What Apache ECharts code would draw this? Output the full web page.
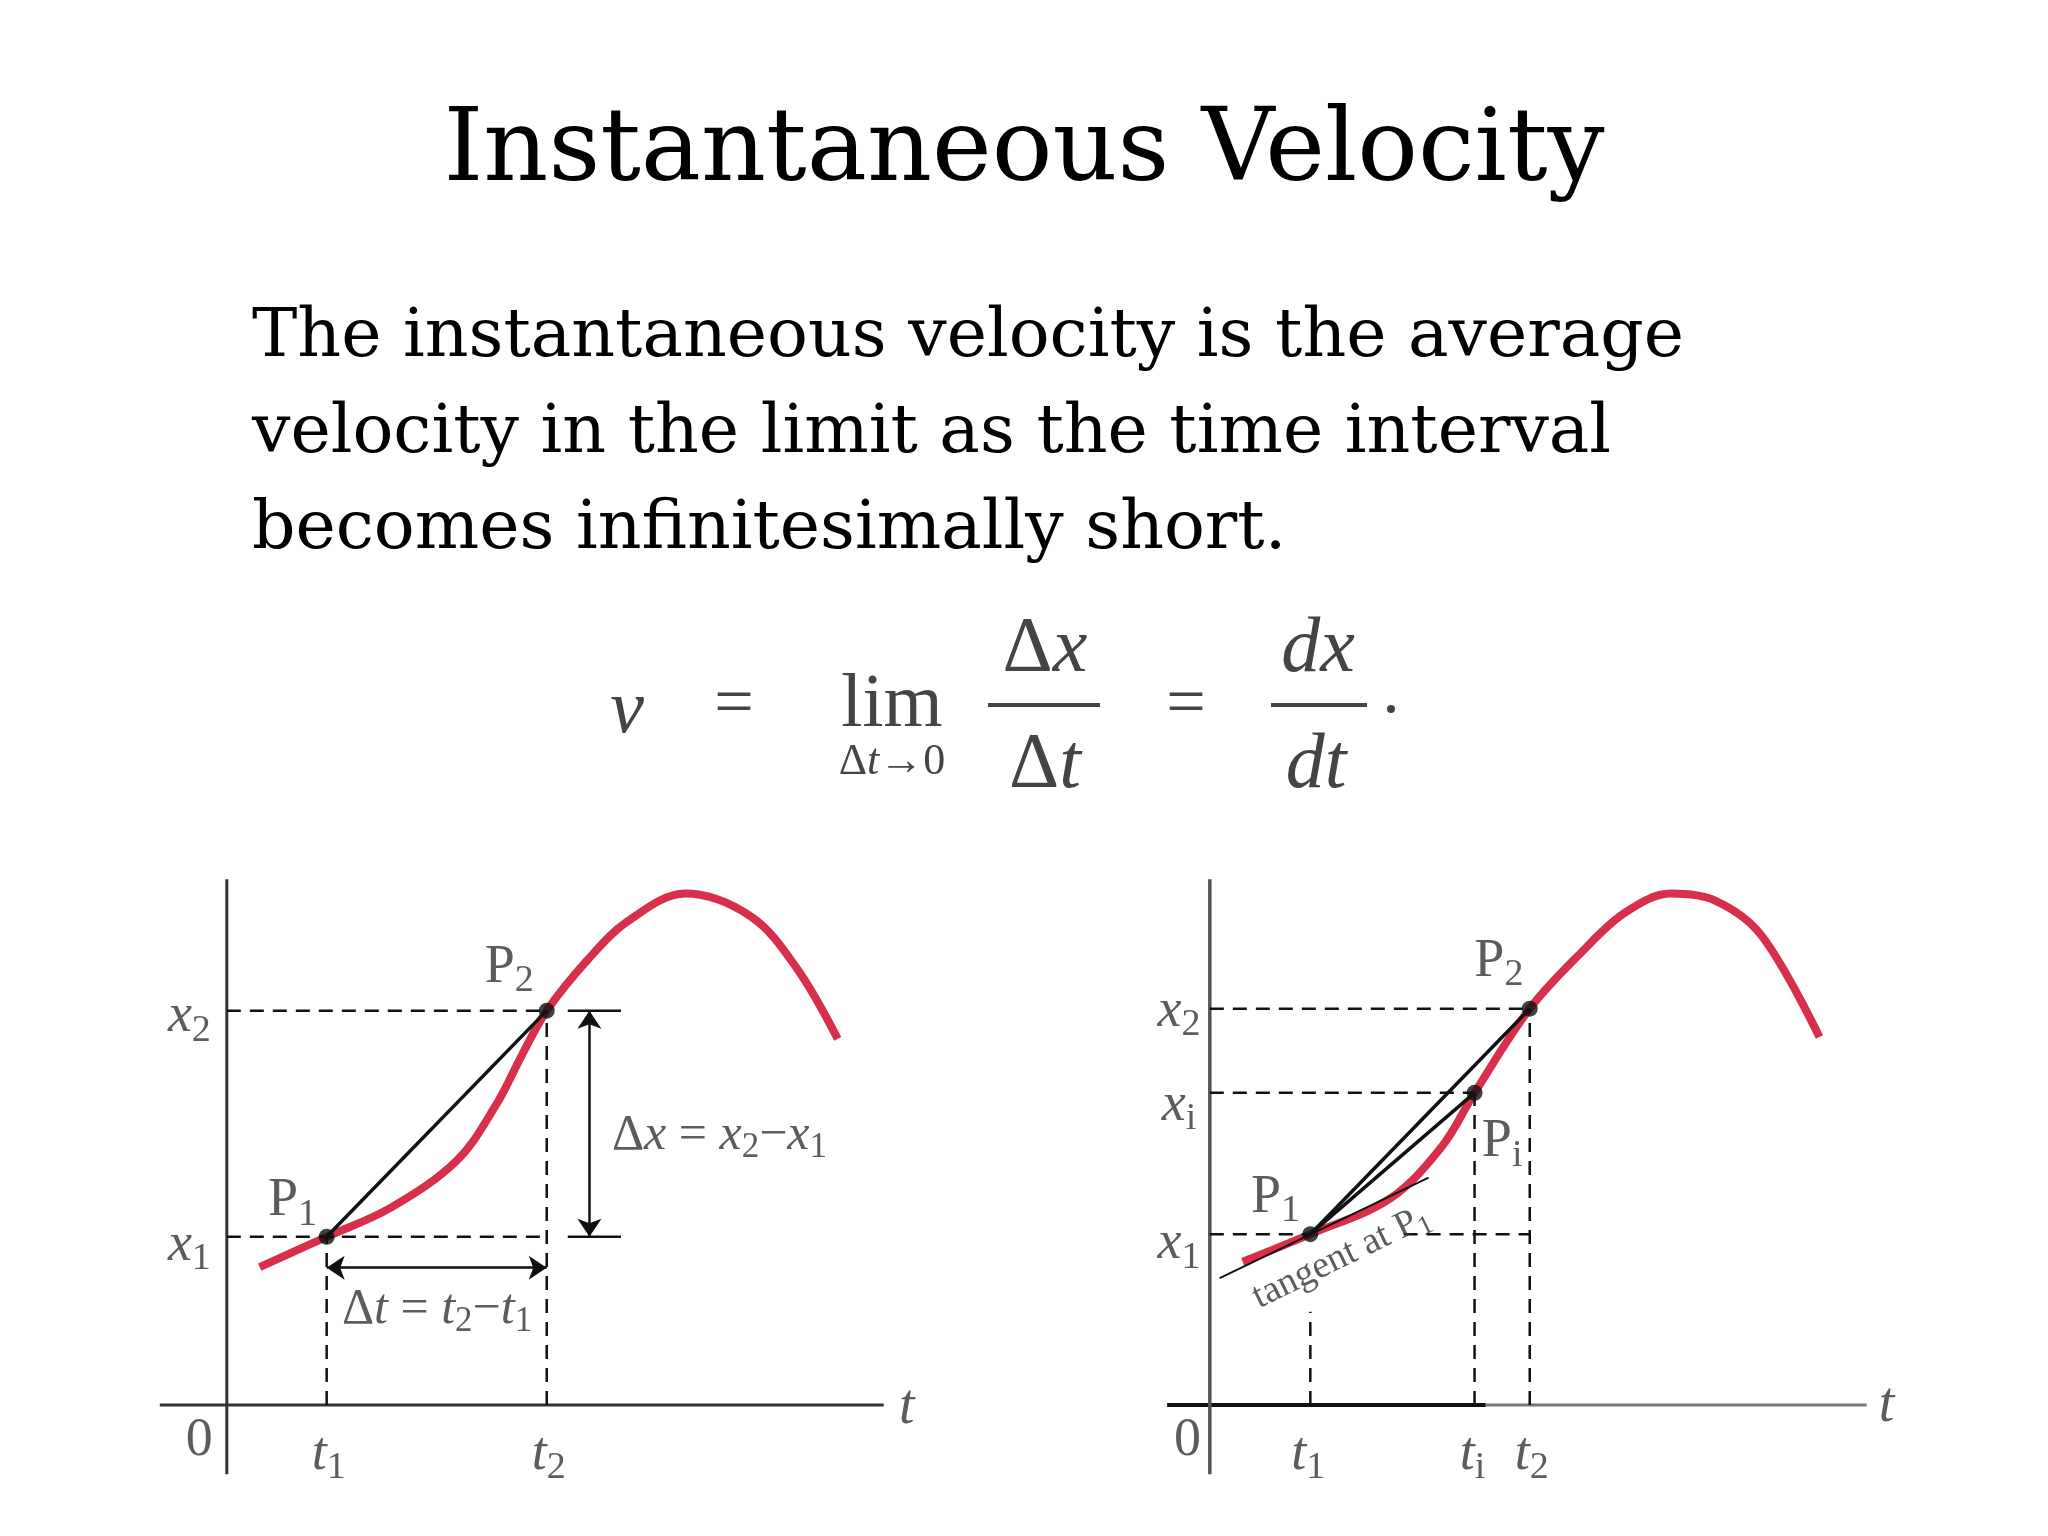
<!DOCTYPE html>
<html><head><meta charset="utf-8">
<script src="https://cdn.jsdelivr.net/npm/echarts@6/dist/echarts.min.js"></script>
<style>html,body{margin:0;background:#fff}#c{width:2048px;height:1536px}</style>
</head><body><div id="c"></div>
<script>
// curve samples [t, x]
var leftCurve = [[0.50,2.10],[1.52,2.56],[2.49,3.00],[3.50,3.72],[4.10,4.57],[4.50,5.34],[4.87,6.00],[5.49,6.77],[6.09,7.35],[6.98,7.78],[7.98,7.43],[8.68,6.64],[9.30,5.57]];
var rightCurve = [[0.50,2.18],[1.53,2.60],[2.74,3.14],[3.53,3.93],[4.03,4.75],[4.87,6.03],[5.62,6.85],[6.32,7.49],[7.02,7.78],[7.70,7.67],[8.40,7.14],[9.28,5.60]];
var lP1 = [1.52,2.56], lP2 = [4.87,6.00];
var rP1 = [1.53,2.60], rPi = [4.03,4.75], rP2 = [4.87,6.03];
var tangent = [[0.15,1.93],[3.33,3.46]];

var RED = '#d8304c', F = 'Liberation Serif', FT = 'DejaVu Serif';
var myChart = echarts.init(document.getElementById('c'));

function seg(g, pts, w, dash, color){
  return {type:'line', xAxisIndex:g, yAxisIndex:g, data:pts, symbol:'none', silent:true,
    lineStyle:{color:color||'#111', width:w, type:dash?[14,9]:'solid'}, z:3};
}
function lab(g, p, text, size, extra){
  var sz = size||54;
  var l = {show:true, position:'inside', formatter:text, color:'#333', fontFamily:F, fontSize:sz,
    rich:{i:{fontStyle:'italic',fontFamily:F,fontSize:sz,color:'#333'},
          s:{fontSize:Math.round(sz*0.7),fontFamily:F,color:'#333',padding:[Math.round(sz*0.5),0,0,0]},
          r:{fontSize:sz,fontFamily:F,color:'#333'}}};
  if(extra) for(var k in extra) l[k]=extra[k];
  return {type:'scatter', xAxisIndex:g, yAxisIndex:g, symbolSize:1, silent:true,
    itemStyle:{color:'rgba(0,0,0,0)'}, data:[{value:p, label:l}], z:5};
}
function dots(g, pts){
  return {type:'scatter', xAxisIndex:g, yAxisIndex:g, data:pts, symbolSize:16, itemStyle:{color:'#111'}, z:6};
}

var series = [];
// ---- left chart (grid 0)
series.push(seg(0,[[-1.02,0],[10.0,0]],3,false,'#333'));
series.push(seg(0,[[0,-1.05],[0,8.0]],3,false,'#333'));
series.push(seg(0,[[0,lP1[1]],[lP2[0],lP1[1]]],2.5,true));
series.push(seg(0,[[0,lP2[1]],[lP2[0],lP2[1]]],2.5,true));
series.push(seg(0,[[lP1[0],0],lP1],2.5,true));
series.push(seg(0,[[lP2[0],0],lP2],2.5,true));
series.push(seg(0,[[5.19,lP1[1]],[6.0,lP1[1]]],2.5,false));
series.push(seg(0,[[5.19,lP2[1]],[6.0,lP2[1]]],2.5,false));
series.push({type:'line', xAxisIndex:0, yAxisIndex:0, data:leftCurve, smooth:0.35, symbol:'none',
  lineStyle:{color:RED,width:8}, z:2});
series.push(seg(0,[lP1,lP2],3.5,false));
series.push(dots(0,[lP1,lP2]));
series.push({type:'lines', coordinateSystem:'cartesian2d', xAxisIndex:0, yAxisIndex:0,
  symbol:['arrow','arrow'], symbolSize:18, lineStyle:{color:'#111',width:2.5,opacity:1},
  data:[{coords:[[5.52,lP1[1]],[5.52,lP2[1]]]},{coords:[[lP1[0],2.09],[lP2[0],2.09]]}], z:4});
series.push(lab(0,[-0.08,8.5],'{i|x}',56));
series.push(lab(0,[10.35,-0.05],'{i|t}',56));
series.push(lab(0,[-0.42,-0.55],'0'));
series.push(lab(0,[1.55,-0.75],'{i|t}{s|1}'));
series.push(lab(0,[4.9,-0.75],'{i|t}{s|2}'));
series.push(lab(0,[-0.57,2.43],'{i|x}{s|1}'));
series.push(lab(0,[-0.57,5.9],'{i|x}{s|2}'));
series.push(lab(0,[1.0,3.1],'{r|P}{s|1}'));
series.push(lab(0,[4.3,6.65],'{r|P}{s|2}'));
series.push(lab(0,[7.5,4.1],'Δ{i|x} = {i|x}{s|2}−{i|x}{s|1}',50));
series.push(lab(0,[3.2,1.45],'Δ{i|t} = {i|t}{s|2}−{i|t}{s|1}',50));
// ---- right chart (grid 1)
series.push(seg(1,[[-0.65,0],[4.2,0]],4,false,'#111'));
series.push(seg(1,[[4.2,0],[10.0,0]],3,false,'#777'));
series.push(seg(1,[[0,-1.05],[0,8.0]],3.5,false,'#555'));
series.push(seg(1,[[0,rP1[1]],rP1],2.5,true));
series.push(seg(1,[[2.95,rP1[1]],[rP2[0],rP1[1]]],2.5,true));
series.push(seg(1,[[0,rPi[1]],rPi],2.5,true));
series.push(seg(1,[[0,rP2[1]],rP2],2.5,true));
series.push(seg(1,[[rP1[0],0],[rP1[0],1.42]],2.5,true));
series.push(seg(1,[[rPi[0],0],rPi],2.5,true));
series.push(seg(1,[[rP2[0],0],rP2],2.5,true));
series.push({type:'line', xAxisIndex:1, yAxisIndex:1, data:rightCurve, smooth:0.35, symbol:'none',
  lineStyle:{color:RED,width:8}, z:2});
series.push(seg(1,tangent,2,false));
series.push(seg(1,[rP1,rP2],3.5,false));
series.push(seg(1,[rP1,rPi],3.5,false));
series.push(dots(1,[rP1,rPi,rP2]));
series.push(lab(1,[-0.02,8.5],'{i|x}',56));
series.push(lab(1,[10.3,-0.02],'{i|t}',56));
series.push(lab(1,[-0.34,-0.55],'0'));
series.push(lab(1,[1.5,-0.75],'{i|t}{s|1}'));
series.push(lab(1,[4.0,-0.75],'{i|t}{s|i}'));
series.push(lab(1,[4.9,-0.75],'{i|t}{s|2}'));
series.push(lab(1,[-0.47,2.45],'{i|x}{s|1}'));
series.push(lab(1,[-0.47,4.55],'{i|x}{s|i}'));
series.push(lab(1,[-0.47,5.98],'{i|x}{s|2}'));
series.push(lab(1,[1.0,3.15],'{r|P}{s|1}'));
series.push(lab(1,[4.4,6.75],'{r|P}{s|2}'));
series.push(lab(1,[4.45,4.0],'{r|P}{s|i}'));
series.push(lab(1,[2.0,2.25],'tangent at P{s|1}',38,{rotate:26}));

var grids = [{left:148,top:866,width:762,height:618},{left:1131,top:866,width:762,height:618}];
function ax(min,max,i){return {type:'value',min:min,max:max,show:false,gridIndex:i};}

var option = {
  animation:false,
  backgroundColor:'#fff',
  grid:grids,
  xAxis:[ax(-1.2,10.4,0),ax(-1.2,10.4,1)],
  yAxis:[ax(-1.2,8.2,0),ax(-1.2,8.2,1)],
  graphic:[
    {type:'text',left:'center',top:103,style:{text:'Instantaneous Velocity',fontFamily:FT,fontSize:101,fill:'#000'}},
    {type:'text',left:252,top:290,style:{text:'The instantaneous velocity is the average\nvelocity in the limit as the time interval\nbecomes infinitesimally short.',
      fontFamily:FT,fontSize:68,lineHeight:96,fill:'#000'}},
    {type:'text',x:627,y:712,style:{text:'v',fontFamily:F,fontStyle:'italic',fontSize:76,fill:'#444',align:'center',verticalAlign:'middle'}},
    {type:'text',x:734,y:707,style:{text:'=',fontFamily:F,fontSize:70,fill:'#444',align:'center',verticalAlign:'middle'}},
    {type:'text',x:892,y:706,style:{text:'lim',fontFamily:F,fontSize:76,fill:'#444',align:'center',verticalAlign:'middle'}},
    {type:'text',x:892,y:762,style:{text:'Δ{i|t}→0',fontFamily:F,fontSize:44,fill:'#444',align:'center',verticalAlign:'middle',
      rich:{i:{fontStyle:'italic',fontFamily:F,fontSize:44,fill:'#444'}}}},
    {type:'text',x:1045,y:650,style:{text:'Δ{i|x}',fontFamily:F,fontSize:78,fill:'#444',align:'center',verticalAlign:'middle',
      rich:{i:{fontStyle:'italic',fontFamily:F,fontSize:78,fill:'#444'}}}},
    {type:'rect',shape:{x:988,y:703,width:112,height:4},style:{fill:'#444'}},
    {type:'text',x:1045,y:766,style:{text:'Δ{i|t}',fontFamily:F,fontSize:78,fill:'#444',align:'center',verticalAlign:'middle',
      rich:{i:{fontStyle:'italic',fontFamily:F,fontSize:78,fill:'#444'}}}},
    {type:'text',x:1186,y:707,style:{text:'=',fontFamily:F,fontSize:70,fill:'#444',align:'center',verticalAlign:'middle'}},
    {type:'text',x:1318,y:650,style:{text:'dx',fontFamily:F,fontStyle:'italic',fontSize:78,fill:'#444',align:'center',verticalAlign:'middle'}},
    {type:'rect',shape:{x:1271,y:703,width:96,height:4},style:{fill:'#444'}},
    {type:'text',x:1316,y:766,style:{text:'dt',fontFamily:F,fontStyle:'italic',fontSize:78,fill:'#444',align:'center',verticalAlign:'middle'}},
    {type:'circle',shape:{cx:1391,cy:709,r:4},style:{fill:'#444'}}
  ],
  series:series
};
myChart.setOption(option,true);
</script></body></html>
